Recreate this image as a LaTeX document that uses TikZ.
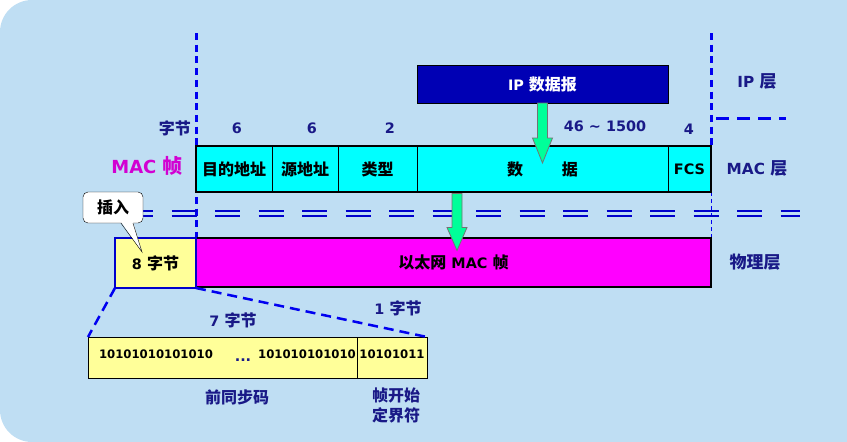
\documentclass[tikz,border=0pt]{standalone}
\usepackage{fontspec}
\setmainfont{DejaVu Sans}[Scale=0.9]
\newfontfamily\cjk{Noto Sans CJK SC}
\usetikzlibrary{calc}

\definecolor{bgblue}{RGB}{191,222,243}
\definecolor{navy}{RGB}{25,25,135}
\definecolor{framecyan}{RGB}{0,255,255}
\definecolor{framemag}{RGB}{255,0,255}
\definecolor{macmag}{RGB}{210,0,210}
\definecolor{ipblue}{RGB}{0,0,180}
\definecolor{pregold}{RGB}{255,255,153}
\definecolor{arrowgreen}{RGB}{0,255,153}
\definecolor{linkblue}{RGB}{0,0,240}

\newcommand\fsz[1]{\fontsize{#1}{#1}\selectfont}

\tikzset{
  field/.style={draw=black, fill=framecyan, inner sep=0, outer sep=0, minimum height=46, font=\bfseries\fsz{16}},
  lbl/.style={text=navy, inner sep=0, font=\bfseries\fsz{16}},
  bits/.style={inner sep=0, font=\bfseries\fsz{13}},
  layerline/.style={linkblue, line width=3, dash pattern=on 7 off 4.7},
  flow/.style={fill=arrowgreen, draw=black!55, line width=0.8},
}

\begin{document}
\begin{tikzpicture}[x=1pt,y=-1pt]
\useasboundingbox (0,0) rectangle (847,442);
% background
\fill[bgblue, rounded corners=32] (0,0) rectangle (847,442);
\fill[bgblue] (400,0) rectangle (847,442);

% layer boundaries
\draw[layerline] (196,33) -- (196,290);
\draw[layerline] (711,33) -- (711,146);
\draw[linkblue, line width=1, dash pattern=on 4 off 3] (711,192) -- (711,238);
\draw[linkblue, line width=3, dash pattern=on 13 off 8] (716,118) -- (786,118);
\foreach \yy in {211,216}
  \draw[linkblue!85!black, line width=2, dash pattern=on 25 off 18.5] (128,\yy) -- (800,\yy);

% layer names
\node[lbl, font=\bfseries\fsz{17}] (lip) at (757,81) {IP {\cjk 层}};
\node[lbl, font=\bfseries\fsz{17}] (lmac) at (757,168) {MAC {\cjk 层}};
\node[lbl, font=\bfseries\fsz{17}] (lphy) at (755,262) {\cjk 物理层};

% MAC frame
\node[field, minimum width=76] (dst) at (234,169) {\cjk 目的地址};
\node[field, minimum width=66] (src) at (305,169) {\cjk 源地址};
\node[field, minimum width=79] (type) at (377.5,169) {\cjk 类型};
\node[field, minimum width=251] (data) at (542.5,169) {\cjk 数\hspace{39pt}据};
\node[field, minimum width=43] (fcs) at (689.5,169) {FCS};
\draw[line width=2.5] (dst.north west) rectangle (fcs.south east);
\node[text=macmag, font=\bfseries\fsz{20}] (mac) at (147,166) {MAC {\cjk 帧}};

% byte counts
\node[lbl, anchor=east] (bunit) at (191,128) {\cjk 字节};
\node[lbl] (bdst) at (237,128) {6};
\node[lbl] (bsrc) at (312,128) {6};
\node[lbl] (btype) at (390,128) {2};
\node[lbl] (bdata) at (605,126) {46 \textasciitilde{} 1500};
\node[lbl] (bfcs) at (689,129) {4};

% IP datagram
\node[draw=black, fill=ipblue, text=white, inner sep=0, outer sep=0, minimum width=251, minimum height=38, font=\bfseries\fsz{16}] (ip) at (542.5,84) {IP {\cjk 数据报}};
\coordinate (tip1) at ($(data.center)+(0,-6)$);
\filldraw[flow] ($(ip.south)+(-5,0)$) -- ($(tip1)+(-5,-25)$) -- ($(tip1)+(-10,-25)$) -- (tip1)
  -- ($(tip1)+(10,-25)$) -- ($(tip1)+(5,-25)$) -- ($(ip.south)+(5,0)$) -- cycle;

% physical layer
\node[draw=black, line width=2.5, fill=framemag, inner sep=0, outer sep=0, minimum width=515, minimum height=49, font=\bfseries\fsz{16}] (eth) at (453.5,262.5) {{\cjk 以太网} MAC {\cjk 帧}};
\node[draw=linkblue!85!black, line width=1.8, fill=pregold, inner sep=0, outer sep=0, minimum width=81, minimum height=50, font=\bfseries\fsz{16}] (pre8) at (155.5,263) {8 {\cjk 字节}};
\coordinate (a2) at ($(data.south west)+(40,1.5)$);
\coordinate (tip2) at ($(a2)+(0,57)$);
\filldraw[flow] ($(a2)+(-5,0)$) -- ($(tip2)+(-5,-23)$) -- ($(tip2)+(-10,-23)$) -- (tip2)
  -- ($(tip2)+(10,-23)$) -- ($(tip2)+(5,-23)$) -- ($(a2)+(5,0)$) -- cycle;

% callout
\node[draw=black, fill=white, rounded corners=5, inner sep=0, minimum width=60, minimum height=31, font=\bfseries\fsz{16}] (insert) at (113,207.5) {\cjk 插入};
\coordinate (ptip) at (142,252);
\fill[white] ($(insert.south)+(8,-1.5)$) -- (ptip) -- ($(insert.south)+(20,-1.5)$) -- cycle;
\draw ($(insert.south)+(8,0)$) -- (ptip) -- ($(insert.south)+(20,0)$);

% preamble detail
\node[draw=black, fill=pregold, inner sep=0, outer sep=0, minimum width=269, minimum height=41] (sync) at (222.5,357.5) {};
\node[draw=black, fill=pregold, inner sep=0, outer sep=0, minimum width=70, minimum height=41] (sfd) at (392,357.5) {};
\node[bits] (bits1) at (156,354) {10101010101010};
\node[bits, text=navy, font=\bfseries\fsz{16}] (dots) at (243,360) {...};
\node[bits] (bits2) at (307,354) {101010101010};
\node[bits] (bits3) at (392,354) {10101011};
\draw[linkblue, line width=2.5, dash pattern=on 10 off 6] (pre8.south west) -- (sync.north west);
\draw[linkblue, line width=2.5, dash pattern=on 10 off 6] (pre8.south east) -- (sfd.north east);
\node[lbl] (n7) at (233,320) {7 {\cjk 字节}};
\node[lbl] (n1) at (398,308) {1 {\cjk 字节}};
\node[lbl] (nsync) at (237,397) {\cjk 前同步码};
\node[lbl, align=center, font=\bfseries\fontsize{16}{20}\selectfont] (nsfd) at (396,405) {\cjk 帧开始\\\cjk 定界符};
\end{tikzpicture}
\end{document}
